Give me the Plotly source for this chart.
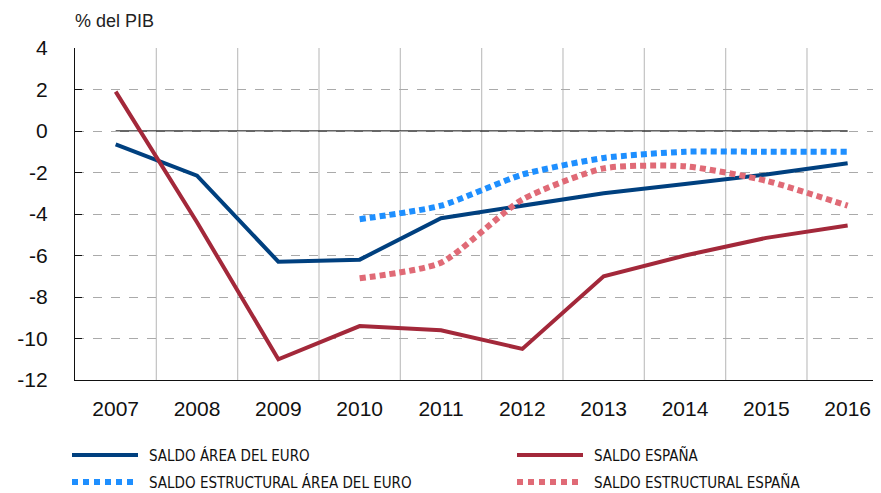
import plotly.graph_objects as go

years = ["2007", "2008", "2009", "2010", "2011", "2012", "2013", "2014", "2015", "2016"]
saldo_euro = [-0.65, -2.15, -6.3, -6.2, -4.2, -3.6, -3.0, -2.55, -2.1, -1.55]
saldo_espana = [1.9, -4.4, -11.0, -9.4, -9.6, -10.5, -7.0, -6.0, -5.15, -4.55]
estr_euro = [None, None, None, -4.25, -3.6, -2.1, -1.3, -1.0, -1.0, -1.0]
estr_espana = [None, None, None, -7.1, -6.35, -3.3, -1.8, -1.7, -2.4, -3.6]
y_ticks = [4, 2, 0, -2, -4, -6, -8, -10, -12]
series_names = ["SALDO ÁREA DEL EURO", "SALDO ESPAÑA",
                "SALDO ESTRUCTURAL ÁREA DEL EURO", "SALDO ESTRUCTURAL ESPAÑA"]

C_EURO, C_ESP, C_EEURO, C_EESP = "#00407f", "#a3283a", "#1e8fff", "#e06a76"
DOT = "6px,4px"

x = list(range(len(years)))

fig = go.Figure()
fig.add_trace(go.Scatter(x=x, y=saldo_euro, mode="lines", name=series_names[0],
                         line=dict(color=C_EURO, width=4)))
fig.add_trace(go.Scatter(x=x, y=saldo_espana, mode="lines", name=series_names[1],
                         line=dict(color=C_ESP, width=4)))
fig.add_trace(go.Scatter(x=x, y=estr_euro, mode="lines", name=series_names[2],
                         line=dict(color=C_EEURO, width=6, dash=DOT, shape="spline", smoothing=0.6)))
fig.add_trace(go.Scatter(x=x, y=estr_espana, mode="lines", name=series_names[3],
                         line=dict(color=C_EESP, width=6, dash=DOT, shape="spline", smoothing=0.6)))

# vertical gridlines between categories
for b in range(len(years) - 1):
    fig.add_shape(type="line", xref="x", yref="y", x0=b + 0.5, x1=b + 0.5, y0=-12, y1=4,
                  line=dict(color="#c2c2c2", width=1.2), layer="below")
# zero reference line
fig.add_shape(type="line", xref="x", yref="y", x0=0, x1=len(years) - 1, y0=0, y1=0,
              line=dict(color="#333333", width=1.4), layer="below")

fig.add_annotation(text="% del PIB", xref="paper", yref="paper", x=-0.003, y=1.0,
                   xanchor="left", yanchor="bottom", yshift=15, showarrow=False,
                   font=dict(size=18, color="#222222", family="Liberation Sans, Arial, sans-serif"))

# manual legend (2 columns x 2 rows), paper coordinates (screen px -> paper)
W, H = 806.0, 332.0
def px_x(p):
    return (p - 75) / W
def px_y(p):
    return (380 - p) / H

legend_items = [
    (series_names[0], C_EURO, 4, None, 72, 455),
    (series_names[1], C_ESP, 4, None, 517, 455),
    (series_names[2], C_EEURO, 6, "6px,5px", 72, 482),
    (series_names[3], C_EESP, 6, "6px,5px", 517, 482),
]
for name, col, w, dash, lx, ly in legend_items:
    fig.add_shape(type="line", xref="paper", yref="paper",
                  x0=px_x(lx), x1=px_x(lx + 66), y0=px_y(ly), y1=px_y(ly),
                  line=dict(color=col, width=w, dash=dash))
    fig.add_annotation(text=name, xref="paper", yref="paper", x=px_x(lx + 76), y=px_y(ly),
                       xanchor="left", yanchor="middle", showarrow=False, borderpad=0,
                       font=dict(size=15, color="#111111",
                                 family="Liberation Sans Narrow, DejaVu Sans Condensed, Arial Narrow, Liberation Sans, sans-serif"))

fig.update_layout(
    width=881, height=493,
    margin=dict(l=67, r=8, t=40, b=121),
    plot_bgcolor="white", paper_bgcolor="white",
    font=dict(family="Liberation Sans, Arial, sans-serif", color="#111111"),
    showlegend=False,
)
fig.update_xaxes(range=[-0.5, 9.41], tickvals=x, ticktext=years, showgrid=False, zeroline=False,
                 showline=True, linecolor="#111111", linewidth=1.2, ticks="",
                 tickfont=dict(size=21, family="Liberation Sans, Arial, sans-serif"),
                 ticklabelstandoff=10, automargin=False)
fig.update_yaxes(range=[-12, 4], tickvals=y_ticks, ticktext=[str(v) for v in y_ticks],
                 showgrid=True, gridcolor="#aaaaaa", griddash="dash", gridwidth=1, zeroline=False,
                 showline=True, linecolor="#111111", linewidth=1.2, ticks="inside", ticklen=7,
                 tickcolor="#111111", tickfont=dict(size=21), ticklabelstandoff=22, automargin=False)

fig.write_html("out.html")
